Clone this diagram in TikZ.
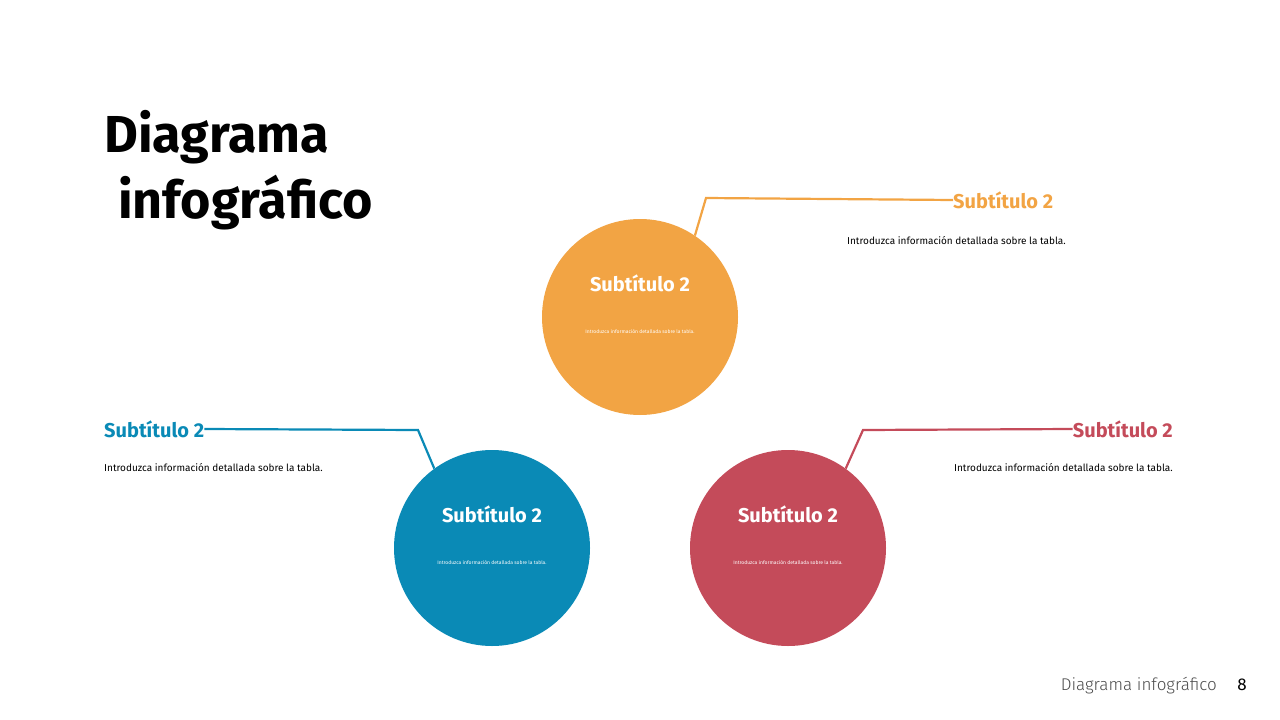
\documentclass[tikz,border=0pt]{standalone}
\usepackage{fontspec}
\setmainfont{Fira Sans}
\newfontfamily\lightfont{Fira Sans Light}
\definecolor{cor}{HTML}{F2A444}
\definecolor{cbl}{HTML}{0A8AB6}
\definecolor{crd}{HTML}{C44B5A}
\begin{document}
\begin{tikzpicture}[x=1pt,y=-1pt,
  circ/.style={circle,minimum size=196pt,inner sep=0pt},
  sub/.style={font=\fontsize{20}{22}\selectfont\bfseries,inner sep=0pt},
  desc/.style={font=\fontsize{10}{12}\selectfont,inner sep=0pt},
  lead/.style={line width=2.2pt}]
\useasboundingbox (0,0) rectangle (1280,720);
\node[anchor=base west,inner sep=0pt,font=\fontsize{52}{56}\selectfont\bfseries] (t1) at (104,152) {Diagrama};
\node[anchor=base west,inner sep=0pt,font=\fontsize{52}{56}\selectfont\bfseries] (t2) at (118,218) {infográfico};
% circles
\node[circ,fill=cor] (co) at (640,317) {};
\node[circ,fill=cbl] (cb) at (492,548) {};
\node[circ,fill=crd] (cr) at (788,548) {};
\foreach \c/\x/\y in {co/640/317,cb/492/548,cr/788/548}{
  \node[sub,text=white] (\c s) at (\x,\y-34) {Subtítulo 2};
  \node[inner sep=0pt,text=white,font=\fontsize{5}{6}\selectfont] (\c d) at (\x,\y+15) {Introduzca información detallada sobre la tabla.};
}
% orange
\node[sub,text=cor,anchor=west] (os) at (953,200) {Subtítulo 2};
\node[desc,anchor=east] (od) at (1066,241) {Introduzca información detallada sobre la tabla.};
\coordinate (o1) at (706,198);
\draw[lead,cor] (co.56) -- (o1) -- (os.west);
% blue
\node[sub,text=cbl,anchor=west] (bs) at (104,429) {Subtítulo 2};
\node[desc,anchor=west] (bd) at (104,468) {Introduzca información detallada sobre la tabla.};
\coordinate (b1) at (418,430);
\draw[lead,cbl] (bs.east) -- (b1) -- (cb.126);
% red
\node[sub,text=crd,anchor=east] (rs) at (1173,429) {Subtítulo 2};
\node[desc,anchor=east] (rd) at (1173,468) {Introduzca información detallada sobre la tabla.};
\coordinate (r1) at (863,430);
\draw[lead,crd] (cr.54) -- (r1) -- (rs.west);
% footer
\node[anchor=base east,inner sep=0pt,text=black!70,font=\fontsize{17}{20}\lightfont] (f1) at (1217,690) {Diagrama infográfico};
\node[anchor=base,inner sep=0pt,font=\fontsize{17}{20}\selectfont] (f2) at (1242,690) {8};
\end{tikzpicture}
\end{document}
